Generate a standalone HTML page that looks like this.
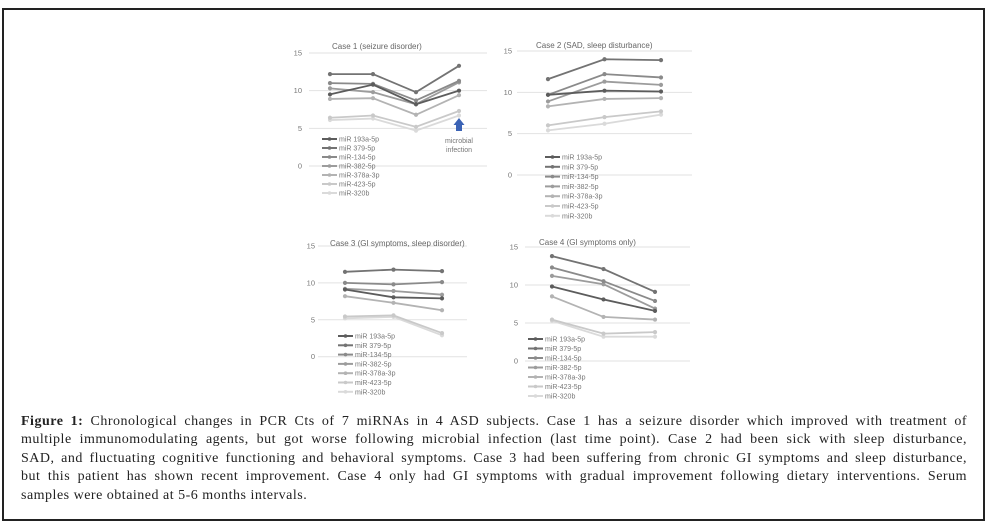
<!DOCTYPE html>
<html><head><meta charset="utf-8"><style>
body{margin:0;background:#fff;width:987px;height:527px;overflow:hidden;position:relative;font-family:"Liberation Sans",sans-serif}
#frame{position:absolute;left:2px;top:8px;width:979px;height:509px;border:2px solid #222}
#cap{position:absolute;left:21px;top:413px;width:946px;font-family:"Liberation Serif",serif;font-size:14px;letter-spacing:0.5px;line-height:18.4px;color:#222}
#cap div{text-align:justify;text-align-last:justify;white-space:nowrap}
#cap div.last{text-align-last:left}
svg{position:absolute;left:0;top:0}
</style></head><body>
<div id="frame"></div>
<svg id="chart" width="987" height="527"></svg>
<div id="cap">
<div><b>Figure 1:</b> Chronological changes in PCR Cts of 7 miRNAs in 4 ASD subjects. Case 1 has a seizure disorder which improved with treatment of</div>
<div>multiple immunomodulating agents, but got worse following microbial infection (last time point). Case 2 had been sick with sleep disturbance,</div>
<div>SAD, and fluctuating cognitive functioning and behavioral symptoms. Case 3 had been suffering from chronic GI symptoms and sleep disturbance,</div>
<div>but this patient has shown recent improvement. Case 4 only had GI symptoms with gradual improvement following dietary interventions. Serum</div>
<div class="last">samples were obtained at 5-6 months intervals.</div>
</div>
<script>
const seriesNames=["miR 193a-5p","miR 379-5p","miR-134-5p","miR-382-5p","miR-378a-3p","miR-423-5p","miR-320b"];
const seriesColors=["#5c5c5c","#737373","#8a8a8a","#9c9c9c","#b3b3b3","#c9c9c9","#dadada"];
const yTicks=[0,5,10,15];
const case1Title="Case 1 (seizure disorder)";
const case1Values=[[9.5,10.8,8.2,10.0],[12.2,12.2,9.8,13.3],[11.0,10.9,8.7,11.3],[10.3,9.8,8.2,11.1],[8.9,9.0,6.8,9.4],[6.4,6.7,5.2,7.3],[6.1,6.3,4.7,6.7]];
const case2Title="Case 2 (SAD, sleep disturbance)";
const case2Values=[[9.7,10.2,10.1],[11.6,14.0,13.9],[9.7,12.2,11.8],[8.9,11.3,10.9],[8.3,9.2,9.3],[6.0,7.0,7.7],[5.4,6.2,7.3]];
const case3Title="Case 3 (GI symptoms, sleep disorder)";
const case3Values=[[9.1,8.05,7.9],[11.5,11.8,11.6],[10.0,9.8,10.1],[9.2,8.9,8.4],[8.2,7.3,6.3],[5.45,5.6,3.2],[5.2,5.4,2.9]];
const case4Title="Case 4 (GI symptoms only)";
const case4Values=[[9.8,8.1,6.6],[13.8,12.1,9.1],[12.3,10.5,7.9],[11.2,10.1,6.9],[8.5,5.8,5.45],[5.45,3.6,3.8],[5.3,3.2,3.2]];

const NS="http://www.w3.org/2000/svg";
const svg=document.getElementById('chart');
function mk(tag,attrs,parent){const e=document.createElementNS(NS,tag);for(const k in attrs)e.setAttribute(k,attrs[k]);(parent||svg).appendChild(e);return e;}

function panel(id,title,values,L){
  const g=mk('g',{});
  
  
  const yS=v=>L.y0-(L.y0-L.y15)*v/15;
  const n=values[0].length;
  const xS=i=>L.px0+(L.px1-L.px0)*i/(n-1);
  yTicks.forEach(t=>{
    const ln=mk('line',{x1:L.gx0,x2:L.gx1,y1:yS(t),y2:yS(t),stroke:'#e2e2e2','stroke-width':1},g);
    
    
    const tx=mk('text',{x:L.lx,y:yS(t)+2.5,'text-anchor':'end','font-size':7.5,fill:'#777'},g);
    tx.textContent=t;
    
    
  });
  const tt=mk('text',{x:L.tx,y:L.ty,'font-size':8,fill:'#666'},g);
  tt.textContent=title;
  
  
  for(let s=values.length-1;s>=0;s--){
    const pts=values[s].map((v,i)=>xS(i)+','+yS(v)).join(' ');
    const pl=mk('polyline',{points:pts,fill:'none',stroke:seriesColors[s],'stroke-width':1.8},g);
    
    
    values[s].forEach((v,i)=>{
      const c=mk('circle',{cx:xS(i),cy:yS(v),r:2.1,fill:seriesColors[s]},g);
      
      
    });
  }
  seriesNames.forEach((nm,s)=>{
    const y=L.legY+s*L.legStep;
    const l=mk('line',{x1:L.legX,x2:L.legX+15,y1:y,y2:y,stroke:seriesColors[s],'stroke-width':2},g);
    
    
    mk('circle',{cx:L.legX+7.5,cy:y,r:1.8,fill:seriesColors[s]},g);
    const t=mk('text',{x:L.legX+17,y:y+2.5,'font-size':7,fill:'#777'},g);
    t.textContent=nm;
    
    
  });
  return g;
}
panel('case1-chart',case1Title,case1Values,{y0:166,y15:53,gx0:309,gx1:487,lx:302,px0:330,px1:459,tx:332,ty:49,legX:322,legY:139,legStep:9});
panel('case2-chart',case2Title,case2Values,{y0:175,y15:51,gx0:517,gx1:692,lx:512,px0:548,px1:661,tx:536,ty:48,legX:545,legY:157,legStep:9.8});
panel('case3-chart',case3Title,case3Values,{y0:356.7,y15:246,gx0:318,gx1:467,lx:315,px0:345,px1:442,tx:330,ty:246,legX:338,legY:336,legStep:9.3});
panel('case4-chart',case4Title,case4Values,{y0:361,y15:247,gx0:525,gx1:690,lx:518,px0:552,px1:655,tx:539,ty:245,legX:528,legY:339,legStep:9.5});

const arrow=mk('path',{d:'M456,131 L456,125 L453.5,125 L459,118 L464.5,125 L462,125 L462,131 Z',fill:'#3b63b5'});


const a1=mk('text',{x:459,y:143,'text-anchor':'middle','font-size':7,fill:'#777'});a1.textContent='microbial';


const a2=mk('text',{x:459,y:152,'text-anchor':'middle','font-size':7,fill:'#777'});a2.textContent='infection';


</script>
</body></html>
